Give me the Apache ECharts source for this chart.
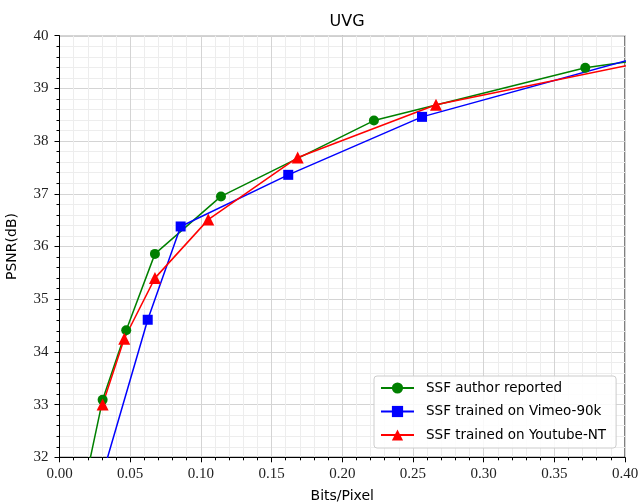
<!DOCTYPE html>
<html>
<head>
<meta charset="utf-8">
<script src="https://cdn.jsdelivr.net/npm/echarts@6/dist/echarts.min.js"></script>
<style>html,body{margin:0;padding:0;background:#fff;overflow:hidden}#c{width:639px;height:502px}</style>
</head>
<body>
<div id="c"></div>
<script>
// Data (x: Bits/Pixel, y: PSNR dB). End points outside the view continue the lines to the frame.
const seriesNames = ['SSF author reported', 'SSF trained on Vimeo-90k', 'SSF trained on Youtube-NT'];
const authorBpp  = [0.014, 0.0305, 0.0472, 0.0675, 0.1142, 0.2224, 0.3719, 0.60];
const authorPsnr = [31.0, 33.09, 34.41, 35.86, 36.95, 38.39, 39.39, 40.28];
const vimeoBpp   = [0.025, 0.0624, 0.0857, 0.1618, 0.2564, 0.45];
const vimeoPsnr  = [31.17, 34.61, 36.38, 37.36, 38.46, 39.89];
const ytBpp      = [0.0305, 0.0458, 0.0675, 0.1052, 0.1685, 0.2663, 0.45];
const ytPsnr     = [33.0, 34.25, 35.40, 36.51, 37.69, 38.69, 39.70];
const xTicks = [0, 0.05, 0.10, 0.15, 0.20, 0.25, 0.30, 0.35, 0.40];
const yTicks = [32, 33, 34, 35, 36, 37, 38, 39, 40];

const zip = (a, b) => a.map((v, i) => [v, b[i]]);
const chart = echarts.init(document.getElementById('c'), null, {renderer: 'canvas'});
const sans = 'DejaVu Sans';
const serif = 'Liberation Serif';
function mk(name, xs, ys, color, symbol, size) {
  return {
    name, type: 'line', data: zip(xs, ys), clip: true,
    symbol, symbolSize: size, showAllSymbol: true,
    lineStyle: {color, width: 1.5}, itemStyle: {color},
    emphasis: {disabled: true}, animation: false, z: 3
  };
}
chart.setOption({
  animation: false,
  title: {text: 'UVG', left: 342, textAlign: 'center', top: 9,
    textStyle: {fontFamily: sans, fontSize: 16, fontWeight: 'normal', color: '#000'}},
  grid: {left: 59.5, right: 14, top: 35.7, bottom: 44.7, containLabel: false, outerBoundsMode: 'none',
    show: true, borderColor: '#000', borderWidth: 1, backgroundColor: 'transparent'},
  xAxis: {
    type: 'value', min: xTicks[0], max: xTicks[xTicks.length - 1], interval: 0.05,
    name: 'Bits/Pixel', nameLocation: 'middle', nameGap: 32,
    nameTextStyle: {fontFamily: sans, fontSize: 14, color: '#000'},
    axisLine: {show: true, onZero: false, lineStyle: {color: '#000', width: 1}},
    axisTick: {show: true, length: 5, lineStyle: {color: '#000'}},
    minorTick: {show: true, splitNumber: 5, length: 3, lineStyle: {color: '#000'}},
    splitLine: {show: true, lineStyle: {color: '#d4d4d4', width: 1}},
    minorSplitLine: {show: true, lineStyle: {color: '#ededed', width: 1}},
    axisLabel: {margin: 9, fontFamily: serif, fontSize: 15, color: '#222', formatter: v => v.toFixed(2)}
  },
  yAxis: {
    type: 'value', min: yTicks[0], max: yTicks[yTicks.length - 1], interval: 1,
    name: 'PSNR(dB)', nameLocation: 'middle', nameGap: 40,
    nameTextStyle: {fontFamily: sans, fontSize: 14, color: '#000'},
    axisLine: {show: true, onZero: false, lineStyle: {color: '#000', width: 1}},
    axisTick: {show: true, length: 5, lineStyle: {color: '#000'}},
    minorTick: {show: true, splitNumber: 5, length: 3, lineStyle: {color: '#000'}},
    splitLine: {show: true, lineStyle: {color: '#d4d4d4', width: 1}},
    minorSplitLine: {show: true, lineStyle: {color: '#ededed', width: 1}},
    axisLabel: {margin: 11, fontFamily: serif, fontSize: 15, color: '#222'}
  },
  legend: {
    orient: 'vertical', left: 374, top: 376,
    data: seriesNames,
    itemWidth: 33, itemHeight: 14, itemGap: 9.5,
    padding: [5, 10, 6, 6],
    backgroundColor: 'rgba(255,255,255,0.85)', borderColor: '#cccccc', borderWidth: 1, borderRadius: 3,
    textStyle: {fontFamily: sans, fontSize: 13.5, color: '#000', padding: [0, 0, 0, 7]}
  },
  series: [
    mk(seriesNames[0], authorBpp, authorPsnr, '#008000', 'circle', 10),
    mk(seriesNames[1], vimeoBpp, vimeoPsnr, '#0000ff', 'rect', 10),
    mk(seriesNames[2], ytBpp, ytPsnr, '#ff0000', 'triangle', 12)
  ]
});
</script>
</body>
</html>
